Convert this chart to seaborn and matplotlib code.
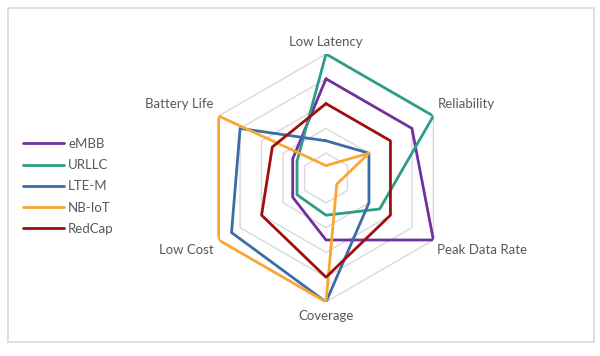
import numpy as np
import pandas as pd
import matplotlib
matplotlib.use("Agg")
import matplotlib.pyplot as plt
from matplotlib.patches import Rectangle
import seaborn as sns

# ------ DATA ------
axes_labels = ["Low Latency", "Reliability", "Peak Data Rate",
               "Coverage", "Low Cost", "Battery Life"]
techs = ["eMBB", "URLLC", "LTE-M", "NB-IoT", "RedCap"]

embb = [4, 4, 5, 2.5, 1.55, 1.55]
urllc = [5, 5, 2.5, 1.5, 1.35, 1.35]
lte_m = [1.5, 2, 2, 5, 4.4, 4]
nb_iot = [0.5, 2, 0.5, 5, 5, 5]
redcap = [3, 3, 3, 4, 3, 2.5]

colors = ["#7030A0", "#2E9C87", "#3A6DA8", "#FAA634", "#A10E0E"]

# ------ LONG TABLE (closed polygons) ------
angles = np.linspace(0, 2 * np.pi, len(axes_labels), endpoint=False)
rows = []
for name, vals in zip(techs, [embb, urllc, lte_m, nb_iot, redcap]):
    for i, v in enumerate(list(vals) + [vals[0]]):
        th = angles[i] if i < len(vals) else angles[0] + 2 * np.pi
        rows.append({"tech": name, "theta": th, "value": v, "order": i})
df = pd.DataFrame(rows)

# ------ CHART ------
sns.set_theme(style="white")
plt.rcParams['font.family'] = ['Lato', 'DejaVu Sans']

fig = plt.figure(figsize=(6, 3.56), dpi=100)
fig.patches.append(Rectangle((8 / 600, 14 / 356), 586 / 600, 334 / 356,
                             transform=fig.transFigure, fill=False,
                             edgecolor="#D9D9D9", linewidth=1.2))

ax = fig.add_axes([0.3367, 0.1517, 0.4133, 0.6966], projection="polar")
ax.set_theta_offset(np.pi / 2)
ax.set_theta_direction(-1)
ax.set_ylim(0, 5)
ax.grid(False)
ax.spines["polar"].set_visible(False)
ax.set_xticks([])
ax.set_yticks([])
ax.set_facecolor("none")

# hexagonal grid rings
ring_theta = list(angles) + [angles[0]]
for lvl in range(1, 6):
    ax.plot(ring_theta, [lvl] * len(ring_theta), color="#D9D9D9",
            linewidth=1.0, zorder=1)

sns.lineplot(data=df, x="theta", y="value", hue="tech", hue_order=techs,
             palette=dict(zip(techs, colors)), sort=False, estimator=None,
             units="tech", linewidth=2.0, ax=ax, zorder=3)
ax.set_xlabel("")
ax.set_ylabel("")

# axis labels
offsets = [(0, 12, "center"), (4, 12, "left"), (4, -10, "left"),
           (0, -14, "center"), (-5, -10, "right"), (-5, 12, "right")]
for th, lab, (dx, dy, ha) in zip(angles, axes_labels, offsets):
    ax.annotate(lab, xy=(th, 5), xytext=(dx, dy), textcoords="offset pixels",
                ha=ha, va="center", fontsize=9.5, color="#595959")

handles, labels = ax.get_legend_handles_labels()
ax.legend(handles, labels, loc="center left",
          bbox_to_anchor=(18 / 600, 169.5 / 356), bbox_transform=fig.transFigure,
          frameon=False, fontsize=9.5, handlelength=3.1, handletextpad=0.3,
          labelspacing=0.7, labelcolor="#595959", borderaxespad=0)

fig.savefig("out.png", dpi=100)
